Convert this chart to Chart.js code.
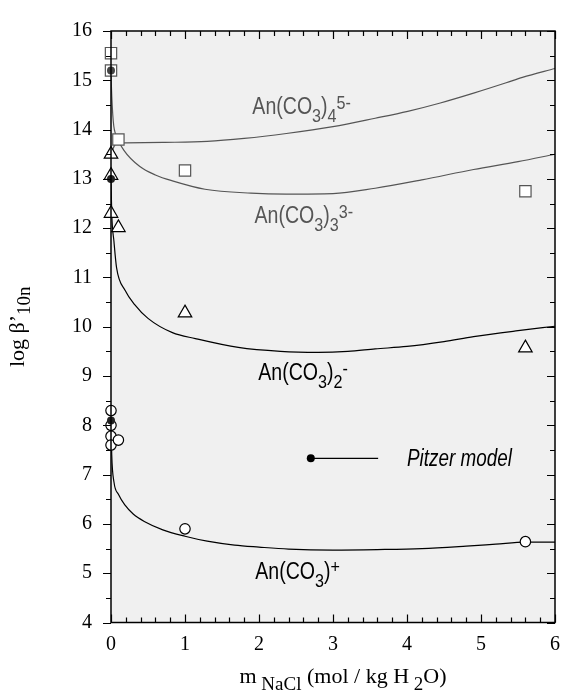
<!DOCTYPE html>
<html>
<head>
<meta charset="utf-8">
<script src="https://cdn.jsdelivr.net/npm/chart.js@4.4.1/dist/chart.umd.min.js"></script>
<style>
  body { margin: 0; background: #fff; }
</style>
</head>
<body>
<canvas id="graficoBeta" width="570" height="694"></canvas>
<script>
// Datos experimentales (m NaCl, log beta)
const cuadradosX = [0, 0, 0.1, 1, 5.6];
const cuadradosY = [15.55, 15.2, 13.8, 13.17, 12.75];
const triangulosX = [0, 0, 0, 0.1, 1, 5.6];
const triangulosY = [13.5, 13.07, 12.3, 12.01, 10.28, 9.57];
const circulosX = [0, 0, 0, 0, 0.1, 1, 5.6];
const circulosY = [8.3, 8.0, 7.78, 7.6, 7.7, 5.9, 5.64];
const puntosIniX = [0, 0, 0];
const puntosIniY = [15.2, 13.0, 8.1];

// Curvas del modelo de Pitzer
const curva4X = [0, 0.03, 0.08, 0.2, 0.7, 1.3, 1.8, 2.37, 3.0, 3.57, 4.01, 4.45, 4.9, 5.34, 5.56, 6];
const curva4Y = [13.45, 13.62, 13.72, 13.73, 13.74, 13.76, 13.82, 13.92, 14.06, 14.23, 14.37, 14.54, 14.74, 14.95, 15.06, 15.24];
const curva3X = [0, 0.005, 0.03, 0.08, 0.17, 0.39, 0.6, 0.83, 1.27, 1.89, 2.37, 3.0, 3.57, 4.2, 4.9, 5.5, 6];
const curva3Y = [15.2, 14.9, 14.18, 13.85, 13.59, 13.25, 13.08, 12.96, 12.79, 12.71, 12.69, 12.7, 12.81, 12.98, 13.19, 13.35, 13.5];
const curva2X = [0, 0.01, 0.04, 0.075, 0.19, 0.32, 0.5, 0.83, 1.14, 1.72, 2.29, 2.8, 3.2, 3.57, 4.0, 4.5, 4.9, 5.5, 6];
const curva2Y = [13.0, 12.3, 11.73, 11.2, 10.74, 10.45, 10.17, 9.88, 9.76, 9.58, 9.5, 9.48, 9.5, 9.55, 9.6, 9.7, 9.8, 9.92, 10.01];
const curva1X = [0, 0.01, 0.04, 0.1, 0.19, 0.3, 0.45, 0.7, 1, 1.3, 1.67, 2, 2.4, 3, 3.6, 4.2, 4.8, 5.2, 5.6, 6];
const curva1Y = [8.1, 7.4, 6.85, 6.6, 6.38, 6.2, 6.05, 5.88, 5.75, 5.65, 5.57, 5.53, 5.49, 5.47, 5.48, 5.5, 5.55, 5.59, 5.63, 5.63];

const ticksX = [0, 1, 2, 3, 4, 5, 6];
const ticksY = [4, 5, 6, 7, 8, 9, 10, 11, 12, 13, 14, 15, 16];

function puntos(xs, ys) {
    return xs.map((x, i) => ({ x: x, y: ys[i] }));
}

// Texto con subindices / superindices, letra estrecha
function textoRico(ctx, x, y, partes, color, escala) {
    ctx.save();
    ctx.translate(x, y);
    ctx.scale(escala, 1);
    ctx.fillStyle = color;
    ctx.textBaseline = 'alphabetic';
    ctx.textAlign = 'left';
    let cx = 0;
    partes.forEach(p => {
        ctx.font = p.f;
        ctx.fillText(p.t, cx, p.dy || 0);
        cx += ctx.measureText(p.t).width;
    });
    ctx.restore();
    return cx * escala;
}

function anchoRico(ctx, partes) {
    let w = 0;
    ctx.save();
    partes.forEach(p => { ctx.font = p.f; w += ctx.measureText(p.t).width; });
    ctx.restore();
    return w;
}

const sansN = '23px "Liberation Sans"';
const sansS = '19px "Liberation Sans"';
const serifN = '22px "Liberation Serif"';
const serifS = '19px "Liberation Serif"';

function especie(sub, carga) {
    return [
        { t: 'An(CO', f: sansN },
        { t: '3', f: sansS, dy: 8 },
        { t: ')', f: sansN },
        { t: sub, f: sansS, dy: 8 },
        { t: carga, f: sansS, dy: -5 }
    ];
}

const marco = {
    id: 'marco',
    beforeDraw(chart) {
        const { ctx, chartArea: a } = chart;
        ctx.save();
        ctx.fillStyle = '#f0f0f0';
        ctx.fillRect(a.left, a.top, a.right - a.left, a.bottom - a.top);
        ctx.restore();
    },
    afterDraw(chart) {
        const { ctx, chartArea: a } = chart;
        const sx = chart.scales.x, sy = chart.scales.y;
        ctx.save();
        ctx.strokeStyle = '#000';
        ctx.lineWidth = 1.5;
        ctx.strokeRect(a.left, a.top, a.right - a.left, a.bottom - a.top);

        // marcas del eje x (hacia dentro, abajo y arriba)
        ctx.lineWidth = 1.2;
        ctx.beginPath();
        for (let i = 0; i <= 30; i++) {
            const v = sx.min + i * 0.2;
            const px = Math.round(sx.getPixelForValue(v)) + 0.5;
            const len = i % 5 === 0 ? 8 : 5;
            ctx.moveTo(px, a.bottom); ctx.lineTo(px, a.bottom - len);
            ctx.moveTo(px, a.top); ctx.lineTo(px, a.top + len);
        }
        // marcas del eje y (izquierda hacia fuera, derecha hacia dentro)
        for (let i = 0; i <= 24; i++) {
            const v = sy.min + i * 0.5;
            const py = Math.round(sy.getPixelForValue(v)) + 0.5;
            const len = i % 2 === 0 ? 8 : 5;
            ctx.moveTo(a.left, py); ctx.lineTo(a.left - len, py);
            ctx.moveTo(a.right, py); ctx.lineTo(a.right - len, py);
        }
        ctx.stroke();

        // nombres de las especies
        const px = v => sx.getPixelForValue(v);
        const py = v => sy.getPixelForValue(v);
        textoRico(ctx, px(1.91), py(14.32), especie('4', '5-'), '#555', 0.85);
        textoRico(ctx, px(1.94), py(12.1), especie('3', '3-'), '#555', 0.85);
        textoRico(ctx, px(1.99), py(8.92), especie('2', '-'), '#000', 0.85);
        textoRico(ctx, px(1.95), py(4.88), [
            { t: 'An(CO', f: sansN },
            { t: '3', f: sansS, dy: 8 },
            { t: ')', f: sansN },
            { t: '+', f: sansS, dy: -6 }
        ], '#000', 0.85);

        // leyenda del modelo
        const ly = py(7.33);
        ctx.strokeStyle = '#000';
        ctx.lineWidth = 1.3;
        ctx.beginPath();
        ctx.moveTo(px(2.7), ly); ctx.lineTo(px(3.61), ly);
        ctx.stroke();
        ctx.fillStyle = '#000';
        ctx.beginPath();
        ctx.arc(px(2.7), ly, 4, 0, Math.PI * 2);
        ctx.fill();
        textoRico(ctx, px(4.0), ly + 8, [{ t: 'Pitzer model', f: 'italic 23px "Liberation Sans"' }], '#000', 0.82);

        // titulo eje x
        const tx = [
            { t: 'm', f: serifN },
            { t: ' NaCl', f: serifS, dy: 7 },
            { t: ' (mol / kg H', f: serifN },
            { t: ' 2', f: serifS, dy: 7 },
            { t: 'O)', f: serifN }
        ];
        const wx = anchoRico(ctx, tx);
        textoRico(ctx, (a.left + a.right) / 2 + 10 - wx / 2, 683, tx, '#000', 1);

        // titulo eje y
        const ty = [
            { t: 'log \u03B2\u2019', f: serifN },
            { t: '10n', f: serifS, dy: 6 }
        ];
        const wy = anchoRico(ctx, ty);
        ctx.save();
        ctx.translate(24, (a.top + a.bottom) / 2 + wy / 2);
        ctx.rotate(-Math.PI / 2);
        textoRico(ctx, 0, 0, ty, '#000', 1);
        ctx.restore();

        ctx.restore();
    }
};

const fuenteTicks = { family: 'Liberation Serif', size: 20 };

const ctx = document.getElementById('graficoBeta').getContext('2d');
new Chart(ctx, {
    type: 'scatter',
    data: {
        datasets: [
            { data: puntos(puntosIniX, puntosIniY), pointRadius: 4, pointBackgroundColor: ['#444', '#222', '#222'], pointBorderWidth: 0, clip: false },
            { data: puntos(circulosX, circulosY), pointStyle: 'circle', pointRadius: 5.2, pointBackgroundColor: '#fff', pointBorderColor: '#000', pointBorderWidth: 1.2, clip: false },
            { data: puntos(triangulosX, triangulosY), pointStyle: 'triangle', pointRadius: 7.8, pointBackgroundColor: '#fff', pointBorderColor: '#000', pointBorderWidth: 1.2, clip: false },
            { data: puntos(cuadradosX, cuadradosY), pointStyle: 'rect', pointRadius: 8, pointBackgroundColor: '#fff', pointBorderColor: '#555', pointBorderWidth: 1.2, clip: false },
            { data: puntos(curva1X, curva1Y), showLine: true, pointRadius: 0, borderColor: '#000', borderWidth: 1.2, cubicInterpolationMode: 'monotone' },
            { data: puntos(curva2X, curva2Y), showLine: true, pointRadius: 0, borderColor: '#000', borderWidth: 1.2, cubicInterpolationMode: 'monotone' },
            { data: puntos(curva3X, curva3Y), showLine: true, pointRadius: 0, borderColor: '#555', borderWidth: 1.2, cubicInterpolationMode: 'monotone' },
            { data: puntos(curva4X, curva4Y), showLine: true, pointRadius: 0, borderColor: '#555', borderWidth: 1.2, cubicInterpolationMode: 'monotone' }
        ]
    },
    options: {
        responsive: false,
        animation: false,
        layout: { padding: { top: 18, right: 7, left: 0, bottom: 0 } },
        plugins: { legend: { display: false }, tooltip: { enabled: false } },
        scales: {
            x: {
                type: 'linear', min: 0, max: 6,
                afterBuildTicks: s => { s.ticks = ticksX.map(v => ({ value: v })); },
                ticks: { font: fuenteTicks, color: '#000', padding: 10 },
                grid: { display: false, drawTicks: false },
                border: { display: false },
                afterFit: s => { s.height = 71.5; }
            },
            y: {
                type: 'linear', min: 4, max: 16,
                afterBuildTicks: s => { s.ticks = ticksY.map(v => ({ value: v })); },
                ticks: { font: fuenteTicks, color: '#000', padding: 19 },
                grid: { display: false, drawTicks: false },
                border: { display: false },
                afterFit: s => { s.width = 111; }
            }
        }
    },
    plugins: [marco]
});
</script>
</body>
</html>
